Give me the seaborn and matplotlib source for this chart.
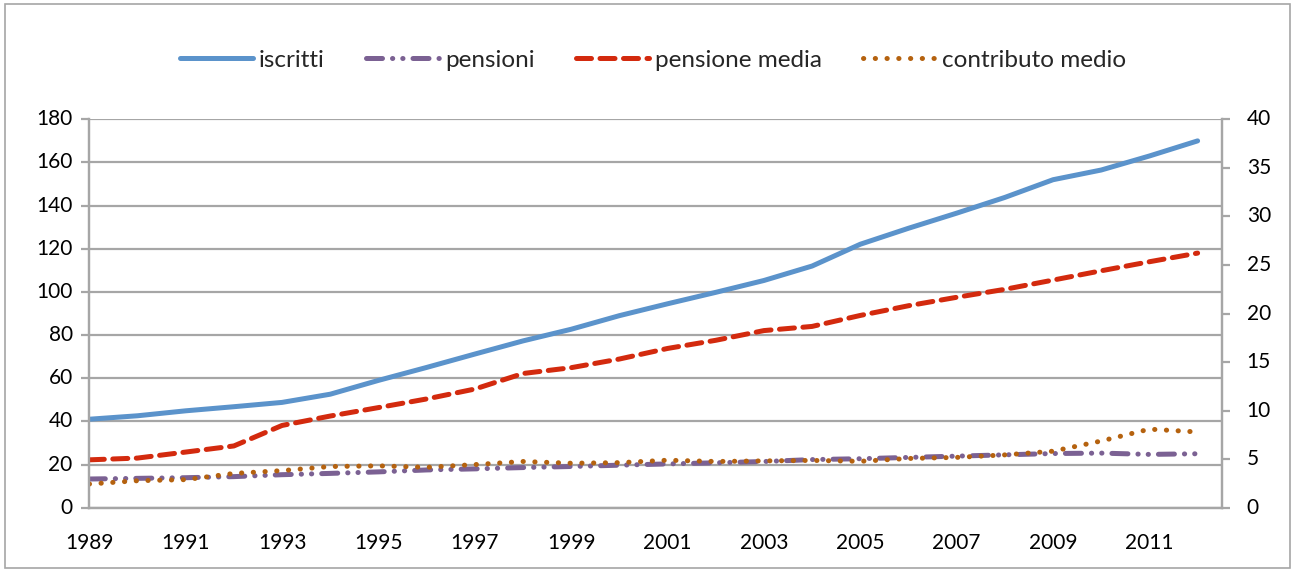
import matplotlib
matplotlib.use("Agg")
import matplotlib.pyplot as plt
import seaborn as sns
import pandas as pd
from matplotlib.patches import Rectangle

years = list(range(1989, 2013))
iscritti = [41.0, 42.6, 44.9, 46.8, 48.8, 52.6, 59.0, 65.0, 71.2, 77.3, 82.7, 89.0,
            94.5, 99.8, 105.3, 112.0, 122.1, 129.5, 136.5, 143.8, 152.0, 156.5, 163.0, 170.0]
pensioni = [13.3, 13.6, 13.9, 14.4, 15.3, 15.9, 16.6, 17.5, 18.0, 18.6, 19.1, 19.7,
            20.3, 20.8, 21.4, 22.3, 22.7, 23.3, 23.9, 24.5, 25.1, 25.3, 24.7, 25.0]
pensione_media = [4.93, 5.11, 5.73, 6.36, 8.47, 9.44, 10.31, 11.20, 12.22, 13.82, 14.42, 15.31,
                  16.40, 17.24, 18.24, 18.67, 19.80, 20.80, 21.67, 22.49, 23.44, 24.40, 25.33, 26.22]
contributo_medio = [2.44, 2.78, 2.89, 3.53, 3.82, 4.24, 4.31, 4.16, 4.44, 4.76, 4.58, 4.64,
                    4.89, 4.76, 4.82, 4.87, 4.78, 5.07, 5.18, 5.44, 5.82, 6.87, 8.09, 7.80]
labels = ["iscritti", "pensioni", "pensione media", "contributo medio"]
left_ticks = list(range(0, 181, 20))
right_ticks = list(range(0, 41, 5))
x_label_years = list(range(1989, 2012, 2))

df = pd.DataFrame({"anno": years, "iscritti": iscritti, "pensioni": pensioni,
                   "pensione media": pensione_media, "contributo medio": contributo_medio})

sns.set_style("white")
plt.rcParams["font.family"] = ["Lato", "DejaVu Sans"]

fig = plt.figure(figsize=(12.93, 5.72), dpi=100)
ax = fig.add_axes([89.3 / 1293, 1 - 507.7 / 572, (1221.7 - 89.3) / 1293, (507.7 - 119.3) / 572])
ax2 = ax.twinx()

grid_c = "#A6A6A6"
lw = 3.6
sns.lineplot(data=df, x="anno", y="iscritti", ax=ax, color="#5B93CB", linewidth=lw,
             solid_capstyle="round", label=labels[0], legend=False)
sns.lineplot(data=df, x="anno", y="pensioni", ax=ax, color="#7B6193", linewidth=lw,
             linestyle=(0, (3.2, 2.0, 0.05, 2.0, 0.05, 2.0)), dash_capstyle="round",
             label=labels[1], legend=False)
sns.lineplot(data=df, x="anno", y="pensione media", ax=ax2, color="#D32A0E", linewidth=lw,
             linestyle=(0, (3.0, 1.7)), dash_capstyle="round", label=labels[2], legend=False)
sns.lineplot(data=df, x="anno", y="contributo medio", ax=ax2, color="#B5620F", linewidth=lw,
             linestyle=(0, (0.05, 2.3)), dash_capstyle="round", label=labels[3], legend=False)

ax.set_xlim(1989, 2012.5)
ax.set_ylim(0, 180)
ax2.set_ylim(0, 40)
ax.set_yticks(left_ticks)
ax2.set_yticks(right_ticks)
ax.set_xticks(years)
ax.set_xticklabels([str(y) if y in x_label_years else "" for y in years])
ax.set_xlabel("")
ax.set_ylabel("")
ax2.set_ylabel("")

ax.yaxis.grid(True, color=grid_c, linewidth=1.6)
ax.set_axisbelow(True)
for a in (ax, ax2):
    for s in a.spines.values():
        s.set_color(grid_c)
        s.set_linewidth(1.6)
    a.spines["top"].set_visible(False)
    a.tick_params(axis="both", length=6, width=1.6, color=grid_c, labelsize=15,
                  labelcolor="black", direction="out")
ax.tick_params(axis="x", pad=12)
ax.tick_params(axis="y", pad=6)
ax2.tick_params(axis="y", pad=12)
for t in ax.get_yticklabels() + ax2.get_yticklabels():
    t.set_verticalalignment("center")

h1, l1 = ax.get_legend_handles_labels()
h2, l2 = ax2.get_legend_handles_labels()
fig.legend(h1 + h2, l1 + l2, loc="center", bbox_to_anchor=(653 / 1293, 1 - 60 / 572), ncol=4,
           frameon=False, fontsize=17.5, handlelength=3.0, handletextpad=0.25,
           columnspacing=1.7)

fig.patches.append(Rectangle((5 / 1293, 4 / 572), 1285 / 1293, 564 / 572,
                             transform=fig.transFigure, fill=False,
                             edgecolor="#A6A6A6", linewidth=1.2))

fig.savefig("out.png", dpi=100)
